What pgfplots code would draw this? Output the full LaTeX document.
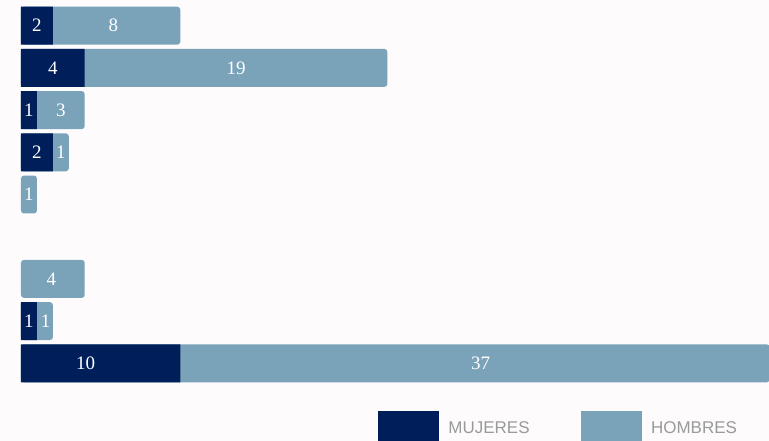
\documentclass[border=0pt]{standalone}
\usepackage{pgfplots}
\pgfplotsset{compat=1.18}
\usepackage{fontspec}
\setmainfont{Liberation Serif}
\newfontfamily\legendfont{Liberation Sans}
\definecolor{navy}{HTML}{001F5A}
\definecolor{steel}{HTML}{7AA3BA}
\definecolor{bg}{HTML}{FDFBFC}
\definecolor{legtext}{HTML}{9A9A9A}
\begin{document}
\begin{tikzpicture}
\path[use as bounding box, fill=bg] (0,0) rectangle (769pt,441pt);
\begin{scope}
\clip (0,0) rectangle (769pt,441pt);
\begin{axis}[
  at={(0,0)}, anchor=south west,
  scale only axis, width=769pt, height=441pt,
  xmin=-1.318, xmax=46.96,
  ymin=0.391, ymax=10.841, y dir=reverse,
  axis lines=none,
  clip=true,
  legend columns=2,
  legend style={draw=none, fill=none, at={(0.4915,0.028)}, anchor=west,
    inner sep=0pt, outer sep=0pt,
    font=\legendfont\fontsize{17}{20}\selectfont,
    text=legtext,
    /tikz/every odd column/.append style={column sep=10pt},
    /tikz/every even column/.append style={column sep=51pt},
    nodes={inner sep=0pt, anchor=west}},
]
% HOMBRES (drawn as total length, covered on the left by MUJERES)
\addplot[xbar, bar width=0.9, bar shift=0pt, fill=steel, draw=none, rounded corners=3pt, forget plot]
  coordinates {(10,1) (23,2) (4,3) (3,4) (1,5) (4,7) (2,8) (47,9)};
% MUJERES
\addplot[xbar, bar width=0.9, bar shift=0pt, fill=navy, draw=none, forget plot]
  coordinates {(2,1) (4,2) (1,3) (2,4) (1,8) (10,9)};
% value labels
\addplot[only marks, mark=none, forget plot,
  nodes near coords, point meta=explicit symbolic,
  nodes near coords style={anchor=center, text=white, font=\fontsize{19}{21}\selectfont}]
  coordinates {(1,1)[2] (5.8,1)[8] (2,2)[4] (13.5,2)[19]
   (0.5,3)[1] (2.5,3)[3] (1,4)[2] (2.5,4)[1] (0.5,5)[1]
   (1.9,7)[4] (0.5,8)[1] (1.55,8)[1] (4.05,9)[10] (28.85,9)[37]};
\addlegendimage{legend image code/.code={\fill[navy] (0pt,-17.5pt) rectangle (60pt,17.5pt);}}
\addlegendentry{MUJERES}
\addlegendimage{legend image code/.code={\fill[steel] (0pt,-17.5pt) rectangle (60pt,17.5pt);}}
\addlegendentry{HOMBRES}
\end{axis}
\end{scope}
\end{tikzpicture}
\end{document}
